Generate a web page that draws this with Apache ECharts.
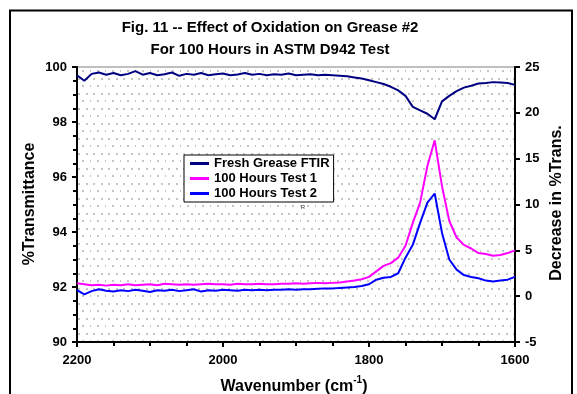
<!DOCTYPE html>
<html>
<head>
<meta charset="utf-8">
<script src="https://cdn.jsdelivr.net/npm/echarts@6/dist/echarts.min.js"></script>
<style>
  html, body { margin: 0; padding: 0; background: #fff; }
  #chart { width: 577px; height: 394px; }
</style>
</head>
<body>
<div id="chart"></div>
<script>
// wavenumbers, cm-1
var wavenumbers = [2200, 2190, 2180, 2170, 2160, 2150, 2140, 2130, 2120, 2110,
  2100, 2090, 2080, 2070, 2060, 2050, 2040, 2030, 2020, 2010,
  2000, 1990, 1980, 1970, 1960, 1950, 1940, 1930, 1920, 1910,
  1900, 1890, 1880, 1870, 1860, 1850, 1840, 1830, 1820, 1810,
  1800, 1790, 1780, 1770, 1760, 1750, 1740, 1730, 1720, 1710,
  1700, 1690, 1680, 1670, 1660, 1650, 1640, 1630, 1620, 1610, 1600]

// %T of fresh grease (left axis)
var freshGrease = [99.70, 99.50, 99.75, 99.80, 99.72, 99.78, 99.70, 99.75, 99.85, 99.72,
  99.78, 99.70, 99.74, 99.80, 99.68, 99.75, 99.72, 99.78, 99.70, 99.74,
  99.76, 99.70, 99.73, 99.78, 99.72, 99.75, 99.70, 99.74, 99.72, 99.76,
  99.70, 99.72, 99.74, 99.70, 99.72, 99.70, 99.68, 99.66, 99.62, 99.58,
  99.52, 99.45, 99.38, 99.28, 99.15, 98.95, 98.55, 98.42, 98.30, 98.10,
  98.75, 98.95, 99.12, 99.25, 99.32, 99.40, 99.42, 99.45, 99.44, 99.42, 99.35]

// decrease in %T (right axis)
var test1 = [1.40, 1.30, 1.20, 1.25, 1.15, 1.25, 1.20, 1.30, 1.20, 1.25,
  1.30, 1.20, 1.35, 1.30, 1.25, 1.30, 1.25, 1.30, 1.35, 1.30,
  1.30, 1.25, 1.35, 1.30, 1.30, 1.35, 1.30, 1.30, 1.35, 1.35,
  1.40, 1.35, 1.40, 1.45, 1.40, 1.45, 1.50, 1.60, 1.70, 1.85,
  2.10, 2.70, 3.30, 3.60, 4.20, 5.50, 8.00, 10.2, 14.2, 17.0,
  12.0, 8.20, 6.40, 5.60, 5.20, 4.70, 4.60, 4.40, 4.50, 4.70, 5.00]

var test2 = [0.65, 0.20, 0.55, 0.75, 0.60, 0.50, 0.65, 0.55, 0.70, 0.60,
  0.45, 0.65, 0.60, 0.70, 0.55, 0.65, 0.75, 0.50, 0.65, 0.60,
  0.70, 0.65, 0.60, 0.70, 0.65, 0.70, 0.65, 0.70, 0.70, 0.75,
  0.70, 0.75, 0.75, 0.80, 0.85, 0.85, 0.90, 0.95, 1.00, 1.10,
  1.30, 1.80, 2.00, 2.10, 2.50, 4.20, 5.60, 8.00, 10.2, 11.2,
  6.90, 4.00, 2.90, 2.30, 2.10, 1.95, 1.70, 1.60, 1.70, 1.80, 2.10]

var seriesNames = ['Fresh Grease FTIR', '100 Hours Test 1', '100 Hours Test 2']

const pairs = vals => wavenumbers.map((w, i) => [w, vals[i]])

// dotted plot background like the excel fill
var pc = document.createElement('canvas')
pc.width = 15
pc.height = 15
var pctx = pc.getContext('2d')
pctx.fillStyle = '#fff'
pctx.fillRect(0, 0, 15, 15)
pctx.fillStyle = '#c4c4c4'
;[[3, 3], [11, 3], [7, 10]].forEach(p => pctx.fillRect(p[0], p[1], 2, 2))
pctx.fillRect(0, 10, 1, 2)

var font = 'Liberation Sans, Arial, sans-serif'
var chart = echarts.init(document.getElementById('chart'))

var options = {
  animation: false,
  backgroundColor: '#fff',
  textStyle: { fontFamily: font },
  grid: {
    left: 77, right: 62, top: 67, bottom: 52,
    show: true,
    backgroundColor: { image: pc, repeat: 'repeat' },
    borderColor: '#808080',
    borderWidth: 1
  },
  legend: {
    orient: 'vertical',
    left: 184, top: 155,
    data: seriesNames,
    icon: 'rect',
    itemWidth: 19,
    itemHeight: 3,
    itemGap: 2,
    padding: [2, 4, 2, 6],
    backgroundColor: '#fff',
    borderColor: '#000',
    borderWidth: 1,
    borderRadius: 0,
    textStyle: { fontFamily: font, fontWeight: 'bold', fontSize: 13, color: '#000' }
  },
  xAxis: {
    type: 'value',
    min: 1600, max: 2200, interval: 200,
    inverse: true,
    splitLine: { show: false },
    axisLine: { onZero: false, lineStyle: { color: '#000', width: 2 } },
    axisTick: { length: 5, lineStyle: { color: '#000', width: 2 } },
    minorTick: { show: true, splitNumber: 4, length: 4, lineStyle: { color: '#000', width: 2 } },
    axisLabel: {
      margin: 12, fontWeight: 'bold', fontSize: 13, color: '#000', fontFamily: font,
      formatter: v => String(v)
    }
  },
  yAxis: [
    {
      type: 'value',
      min: 90, max: 100, interval: 2,
      splitLine: { show: false },
      axisLine: { show: true, lineStyle: { color: '#000', width: 2 } },
      axisTick: { show: true, length: 5, lineStyle: { color: '#000', width: 2 } },
      minorTick: { show: true, splitNumber: 4, length: 4, lineStyle: { color: '#000', width: 2 } },
      axisLabel: { margin: 10, fontWeight: 'bold', fontSize: 13, color: '#000', fontFamily: font }
    },
    {
      type: 'value',
      position: 'right',
      min: -5, max: 25, interval: 5,
      splitLine: { show: false },
      axisLine: { show: true, lineStyle: { color: '#000', width: 2 } },
      axisTick: { show: true, length: 5, lineStyle: { color: '#000', width: 2 } },
      axisLabel: { margin: 10, fontWeight: 'bold', fontSize: 13, color: '#000', fontFamily: font }
    }
  ],
  series: [
    {
      name: seriesNames[0], type: 'line', yAxisIndex: 0,
      data: pairs(freshGrease), showSymbol: false,
      color: '#000080', lineStyle: { width: 2 }
    },
    {
      name: seriesNames[1], type: 'line', yAxisIndex: 1,
      data: pairs(test1), showSymbol: false,
      color: '#ff00ff', lineStyle: { width: 2 }
    },
    {
      name: seriesNames[2], type: 'line', yAxisIndex: 1,
      data: pairs(test2), showSymbol: false,
      color: '#0000ff', lineStyle: { width: 2 }
    }
  ],
  graphic: [
    {
      type: 'rect', silent: true, z: 100,
      shape: { x: 10, y: 10.5, width: 562, height: 400 },
      style: { fill: 'none', stroke: '#000', lineWidth: 2 }
    },
    {
      type: 'text', x: 270, y: 28,
      style: {
        text: 'Fig. 11 -- Effect of Oxidation on Grease #2',
        font: 'bold 15px ' + font, fill: '#000',
        align: 'center', verticalAlign: 'middle', textAlign: 'center', textVerticalAlign: 'middle'
      }
    },
    {
      type: 'text', x: 270, y: 50,
      style: {
        text: 'For 100 Hours in ASTM D942 Test',
        font: 'bold 15px ' + font, fill: '#000',
        align: 'center', verticalAlign: 'middle', textAlign: 'center', textVerticalAlign: 'middle'
      }
    },
    {
      type: 'text', x: 30, y: 204, rotation: Math.PI / 2,
      style: {
        text: '%Transmittance',
        font: 'bold 16px ' + font, fill: '#000',
        align: 'center', verticalAlign: 'middle', textAlign: 'center', textVerticalAlign: 'middle'
      }
    },
    {
      type: 'text', x: 557, y: 203, rotation: Math.PI / 2,
      style: {
        text: 'Decrease in %Trans.',
        font: 'bold 16px ' + font, fill: '#000',
        align: 'center', verticalAlign: 'middle', textAlign: 'center', textVerticalAlign: 'middle'
      }
    },
    {
      type: 'text', x: 294, y: 375,
      style: {
        text: '{a|Wavenumber (cm}{b|-1}{a|)}',
        rich: {
          a: { font: 'bold 16px ' + font, fill: '#000', color: '#000', verticalAlign: 'bottom', lineHeight: 20 },
          b: { font: 'bold 10px ' + font, fill: '#000', color: '#000', verticalAlign: 'top', lineHeight: 20 }
        },
        align: 'center', verticalAlign: 'top'
      }
    },
    {
      type: 'text', x: 303, y: 207,
      style: {
        text: 'R', font: '6px ' + font, fill: '#333',
        align: 'center', verticalAlign: 'middle', textAlign: 'center', textVerticalAlign: 'middle'
      }
    }
  ]
}

chart.setOption(options)
</script>
</body>
</html>
